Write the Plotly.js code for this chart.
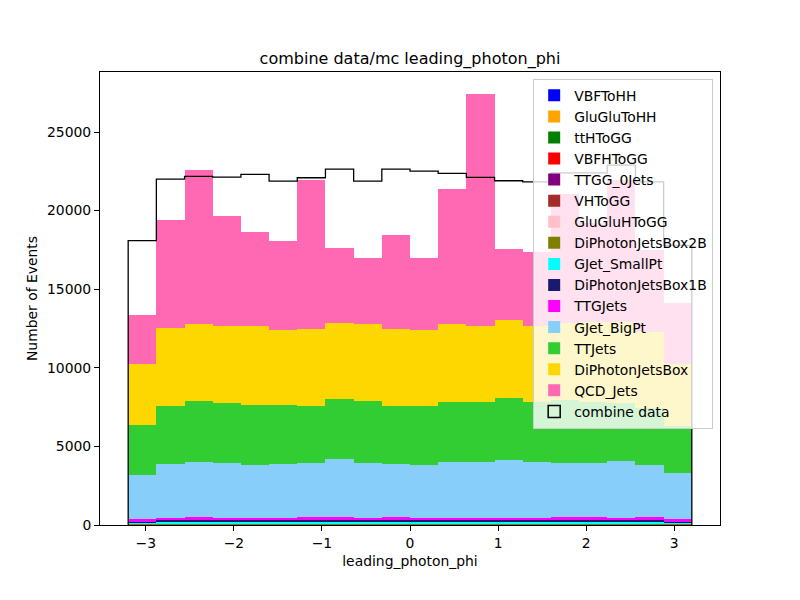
<!DOCTYPE html>
<html>
<head>
<meta charset="utf-8">
<script src="https://cdn.plot.ly/plotly-3.0.1.min.js"></script>
<style>html,body{margin:0;padding:0;background:#fff;}#chart{width:800px;height:600px;}</style>
</head>
<body>
<div id="chart"></div>
<script>
// Bin edges of leading_photon_phi
const edges = [-3.2,-2.88,-2.56,-2.24,-1.92,-1.6,-1.28,-0.96,-0.64,-0.32,0,0.32,0.64,0.96,1.28,1.6,1.92,2.24,2.56,2.88,3.2];

// MC samples (bottom of stack first)
const VBFToHH          = [0.02,0.02,0.02,0.02,0.02,0.02,0.02,0.02,0.02,0.02,0.02,0.02,0.02,0.02,0.02,0.02,0.02,0.02,0.02,0.02];
const GluGluToHH       = [0.1,0.1,0.1,0.1,0.1,0.1,0.1,0.1,0.1,0.1,0.1,0.1,0.1,0.1,0.1,0.1,0.1,0.1,0.1,0.1];
const ttHToGG          = [1,1,1,1,1,1,1,1,1,1,1,1,1,1,1,1,1,1,1,1];
const VBFHToGG         = [1.5,1.5,1.5,1.5,1.5,1.5,1.5,1.5,1.5,1.5,1.5,1.5,1.5,1.5,1.5,1.5,1.5,1.5,1.5,1.5];
const TTGG_0Jets       = [2,2,2,2,2,2,2,2,2,2,2,2,2,2,2,2,2,2,2,2];
const VHToGG           = [2,2,2,2,2,2,2,2,2,2,2,2,2,2,2,2,2,2,2,2];
const GluGluHToGG      = [22,25,25,25,25,25,25,25,25,25,25,25,25,25,25,25,25,25,25,22];
const DiPhotonJetsBox2B= [12,12,12,12,12,12,12,12,12,12,12,12,12,12,12,12,12,12,12,12];
const GJet_SmallPt     = [85,127,127,127,127,127,127,127,127,127,127,127,127,127,127,127,127,127,127,85];
const DiPhotonJetsBox1B= [63,128,128,128,128,128,128,128,128,128,128,128,128,128,128,128,128,128,128,63];
const TTGJets          = [192,170,234,170,170,170,212,212,170,212,170,170,170,170,148,212,212,170,212,192];
const GJet_BigPt       = [2807,3422,3486,3486,3359,3422,3444,3699,3486,3380,3359,3550,3550,3677,3572,3444,3444,3614,3317,2933];
const TTJets           = [3190,3700,3890,3826,3823,3760,3636,3827,3954,3700,3763,3826,3826,3955,3826,4018,3896,3668,3623,2998];
const DiPhotonJetsBox  = [3890,4930,4847,4850,4980,4740,4870,4844,4847,4870,4800,4911,4826,4910,4826,4888,5050,5150,4810,3936];
const QCD_Jets         = [3060,6870,9825,7030,5990,5660,9500,4720,4205,5970,4570,8610,14750,4530,4680,8190,6280,9040,5210,3860];

// Data
const combine_data     = [18090,22000,22180,22130,22300,21875,22090,22640,21875,22640,22510,22370,22110,21900,21830,22400,22400,22895,21830,17790];

const names  = ["VBFToHH","GluGluToHH","ttHToGG","VBFHToGG","TTGG_0Jets","VHToGG","GluGluHToGG","DiPhotonJetsBox2B","GJet_SmallPt","DiPhotonJetsBox1B","TTGJets","GJet_BigPt","TTJets","DiPhotonJetsBox","QCD_Jets"];
const series = [VBFToHH,GluGluToHH,ttHToGG,VBFHToGG,TTGG_0Jets,VHToGG,GluGluHToGG,DiPhotonJetsBox2B,GJet_SmallPt,DiPhotonJetsBox1B,TTGJets,GJet_BigPt,TTJets,DiPhotonJetsBox,QCD_Jets];
const colors = ["#0000FF","#FFA500","#008000","#FF0000","#800080","#A52A2A","#FFC0CB","#808000","#00FFFF","#191970","#FF00FF","#87CEFA","#32CD32","#FFD700","#FF69B4"];

const centers = [];
const widths = [];
for (let i = 0; i < edges.length - 1; i++) {
  centers.push((edges[i] + edges[i+1]) / 2);
  widths.push(edges[i+1] - edges[i]);
}

const traces = series.map((vals, k) => ({
  type: 'bar',
  name: names[k],
  x: centers,
  y: vals,
  width: widths,
  marker: {color: colors[k], line: {width: 0}},
  hoverinfo: 'name+y'
}));

// step outline for data
const sx = [edges[0]];
const sy = [0];
for (let i = 0; i < combine_data.length; i++) { sx.push(edges[i]); sy.push(combine_data[i]); }
sx.push(edges[edges.length - 1]); sy.push(0);

traces.push({
  type: 'scatter',
  mode: 'lines',
  name: 'combine data',
  x: sx,
  y: sy,
  line: {shape: 'hv', color: '#000000', width: 1.3},
  showlegend: false,
  hoverinfo: 'skip'
});

// legend entry for data (outlined box, as in a step histogram legend)
traces.push({
  type: 'bar',
  name: 'combine data',
  x: [null],
  y: [null],
  marker: {color: 'rgba(255,255,255,0)', line: {color: '#000000', width: 1.5}},
  hoverinfo: 'skip'
});

const font = {family: 'DejaVu Sans, sans-serif', size: 13.9, color: '#000'};

const layout = {
  width: 800,
  height: 600,
  paper_bgcolor: '#fff',
  plot_bgcolor: '#fff',
  font: font,
  barmode: 'stack',
  bargap: 0,
  margin: {l: 100, r: 80, t: 72, b: 75, pad: 0},
  title: {
    text: 'combine data/mc leading_photon_phi',
    font: {family: 'DejaVu Sans, sans-serif', size: 16, color: '#000'},
    x: 0.5125, xanchor: 'center', xref: 'container',
    y: 0.903, yanchor: 'middle', yref: 'container'
  },
  xaxis: {
    range: [-3.52, 3.52],
    tickvals: [-3,-2,-1,0,1,2,3],
    ticktext: ['\u22123','\u22122','\u22121','0','1','2','3'],
    ticks: 'outside', ticklen: 5, tickwidth: 1, tickcolor: '#000',
    showline: true, linecolor: '#000', linewidth: 1, mirror: true,
    showgrid: false, zeroline: false,
    title: {text: 'leading_photon_phi', font: font, standoff: 6}
  },
  yaxis: {
    range: [0, 28817],
    tickvals: [0,5000,10000,15000,20000,25000],
    ticktext: ['0','5000','10000','15000','20000','25000'],
    ticks: 'outside', ticklen: 5, tickwidth: 1, tickcolor: '#000',
    showline: true, linecolor: '#000', linewidth: 1, mirror: true,
    showgrid: false, zeroline: false,
    title: {text: 'Number of Events', font: font, standoff: 6}
  },
  legend: {
    x: 0.989, xanchor: 'right',
    y: 0.985, yanchor: 'top',
    traceorder: 'normal',
    bgcolor: 'rgba(255,255,255,0.8)',
    bordercolor: '#cccccc',
    borderwidth: 1,
    font: {family: 'DejaVu Sans, sans-serif', size: 13.9, color: '#000'},
    tracegroupgap: 0,
    itemwidth: 30
  },
  showlegend: true
};

Plotly.newPlot('chart', traces, layout, {displayModeBar: false, staticPlot: true});
</script>
</body>
</html>
